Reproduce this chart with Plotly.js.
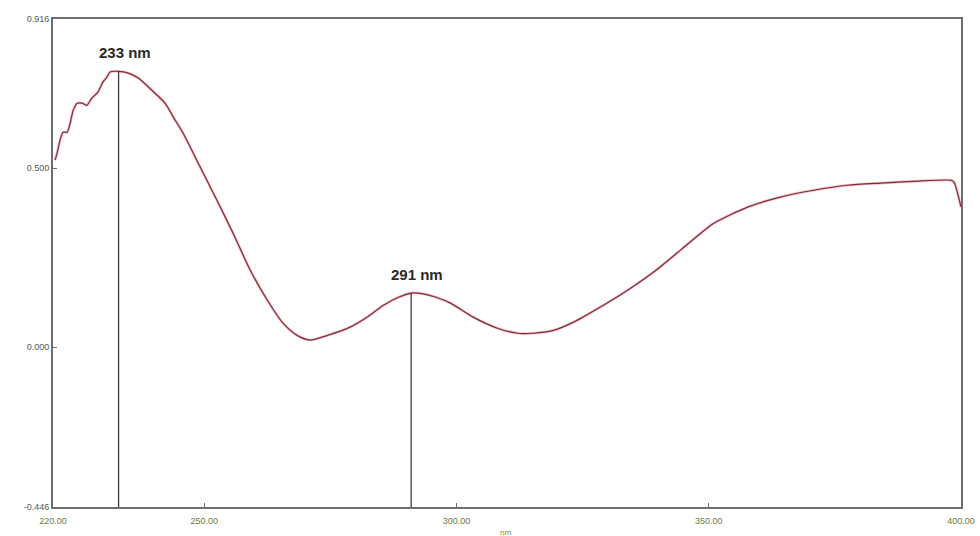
<!DOCTYPE html>
<html>
<head>
<meta charset="utf-8">
<script src="https://cdn.plot.ly/plotly-3.0.1.min.js"></script>
<style>
  html, body { margin: 0; padding: 0; background: #ffffff; }
  #chart { width: 980px; height: 536px; }
</style>
</head>
<body>
<div id="chart"></div>
<script>
// Absorption spectrum, wavelength (nm) vs absorbance
const wavelength = [
  220.4, 220.8, 221.4, 222.0, 222.8, 223.4, 224.0, 224.8, 225.8, 226.7,
  227.7, 228.9, 229.9, 230.7, 231.3, 233.0, 234.9, 236.9, 239.6, 242.2,
  244.2, 245.8, 249.2, 252.5, 255.7, 259.1, 262.5, 265.6, 268.4, 271.0,
  274.4, 278.9, 282.3, 285.5, 288.6, 291.0, 293.4, 295.8, 298.8, 303.3,
  308.1, 312.1, 315.2, 319.2, 323.2, 328.5, 333.9, 339.0, 344.4, 348.4,
  351.0, 357.7, 364.2, 370.8, 377.5, 384.1, 390.6, 398.0, 398.6, 400.0
];
const absorbance = [
  0.522, 0.541, 0.578, 0.600, 0.600, 0.625, 0.661, 0.681, 0.681, 0.675,
  0.695, 0.712, 0.740, 0.754, 0.768, 0.770, 0.765, 0.751, 0.717, 0.681,
  0.634, 0.597, 0.502, 0.410, 0.318, 0.215, 0.131, 0.067, 0.033, 0.020,
  0.033, 0.056, 0.084, 0.117, 0.140, 0.151, 0.149, 0.140, 0.123, 0.084,
  0.053, 0.039, 0.039, 0.047, 0.070, 0.112, 0.159, 0.209, 0.271, 0.318,
  0.346, 0.391, 0.419, 0.438, 0.452, 0.458, 0.463, 0.466, 0.461, 0.391
];

// Marked absorption maxima
const peakNm = [233, 291];
const peakAbs = [0.770, 0.151];
const peakLabels = ['233 nm', '291 nm'];

// Axis ticks
const xTickVals = [220, 250, 300, 350, 400];
const xTickText = ['220.00', '250.00', '300.00', '350.00', '400.00'];
const yTickVals = [0.916, 0.5, 0.0, -0.446];
const yTickText = ['0.916', '0.500', '0.000', '-0.446'];

const yMin = -0.446, yMax = 0.916;
const xMin = 220, xMax = 400;

const traces = [];

// soft red halo under the spectrum line
traces.push({
  x: wavelength, y: absorbance, type: 'scatter', mode: 'lines',
  line: { color: 'rgba(230,80,105,0.4)', width: 2.6, shape: 'spline', smoothing: 0.7 },
  hoverinfo: 'skip', showlegend: false
});
traces.push({
  x: wavelength, y: absorbance, type: 'scatter', mode: 'lines',
  line: { color: '#7e2f3a', width: 1.2, shape: 'spline', smoothing: 0.7 },
  showlegend: false
});

// drop lines from each maximum to the baseline
peakNm.forEach((nm, i) => {
  traces.push({
    x: [nm, nm], y: [yMin, peakAbs[i]], type: 'scatter', mode: 'lines',
    line: { color: '#3a3a3a', width: 1.3 },
    hoverinfo: 'skip', showlegend: false
  });
});

const annotations = peakNm.map((nm, i) => ({
  x: nm, y: peakAbs[i], xref: 'x', yref: 'y',
  text: '<b>' + peakLabels[i] + '</b>',
  showarrow: false, xanchor: 'left', yanchor: 'bottom',
  xshift: -22, yshift: 8,
  font: { family: 'Liberation Sans, Arial, sans-serif', size: 15, color: '#2a2a2a' }
}));

// axis unit under the x axis
annotations.push({
  x: 0.5, y: 0, xref: 'paper', yref: 'paper',
  text: 'nm', showarrow: false, xanchor: 'center', yanchor: 'top',
  xshift: -2, yshift: -19,
  font: { family: 'Liberation Sans, Arial, sans-serif', size: 8, color: '#7a8a40' }
});

const layout = {
  width: 980, height: 536,
  margin: { l: 53, r: 19, t: 19, b: 29 },
  paper_bgcolor: '#ffffff', plot_bgcolor: '#ffffff',
  showlegend: false,
  xaxis: {
    range: [xMin, xMax], tickvals: xTickVals, ticktext: xTickText,
    showgrid: false, zeroline: false,
    showline: true, mirror: true, linecolor: '#6e6e6e', linewidth: 2,
    ticks: 'inside', ticklen: 4, tickcolor: '#6e6e6e',
    ticklabelstandoff: 4,
    tickfont: { family: 'Liberation Sans, Arial, sans-serif', size: 9, color: '#6c7a3a' }
  },
  yaxis: {
    range: [yMin, yMax], tickvals: yTickVals, ticktext: yTickText,
    showgrid: false, zeroline: false,
    showline: true, mirror: true, linecolor: '#6e6e6e', linewidth: 2,
    ticks: 'inside', ticklen: 4, tickcolor: '#6e6e6e',
    tickfont: { family: 'Liberation Sans, Arial, sans-serif', size: 9, color: '#4e5e58' }
  },
  annotations: annotations
};

Plotly.newPlot('chart', traces, layout, { displayModeBar: false, staticPlot: true });
</script>
</body>
</html>
